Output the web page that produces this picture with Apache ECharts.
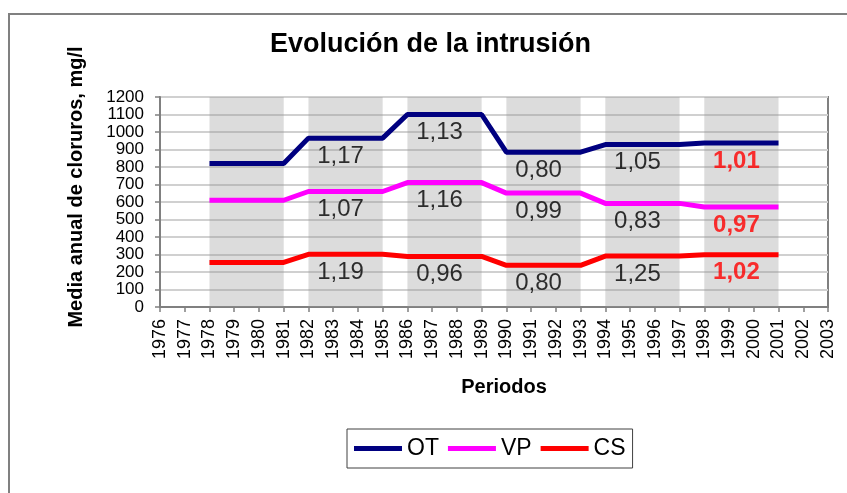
<!DOCTYPE html>
<html>
<head>
<meta charset="utf-8">
<script src="https://cdn.jsdelivr.net/npm/echarts@6/dist/echarts.min.js"></script>
<style>
  html, body { margin: 0; padding: 0; background: #fff; }
  #chart { width: 847px; height: 493px; }
</style>
</head>
<body>
<div id="chart"></div>
<script>
// years with data (one point per year)
const years = [1978, 1979, 1980, 1981, 1982, 1983, 1984, 1985, 1986, 1987, 1988, 1989,
  1990, 1991, 1992, 1993, 1994, 1995, 1996, 1997, 1998, 1999, 2000, 2001];
const otValues = [820, 820, 820, 820, 965, 965, 965, 965, 1100, 1100, 1100, 1100,
  885, 885, 885, 885, 928, 928, 928, 928, 937, 937, 937, 937];
const vpValues = [610, 610, 610, 610, 660, 660, 660, 660, 711, 711, 711, 711,
  651, 651, 651, 651, 592, 592, 592, 592, 571, 571, 571, 571];
const csValues = [255, 255, 255, 255, 301, 301, 301, 301, 289, 289, 289, 289,
  238, 238, 238, 238, 291, 291, 291, 291, 299, 299, 299, 299];

// shaded periods
const periodStarts = [1978, 1982, 1986, 1990, 1994, 1998];
const periodEnds = [1981, 1985, 1989, 1993, 1997, 2001];

// ratio labels for periods 2..6
const otRatios = ['1,17', '1,13', '0,80', '1,05', '1,01'];
const vpRatios = ['1,07', '1,16', '0,99', '0,83', '0,97'];
const csRatios = ['1,19', '0,96', '0,80', '1,25', '1,02'];

const FONT = 'Liberation Sans, Arial, sans-serif';

function linePoints(vals) {
  return years.map((y, i) => [y, vals[i]]);
}

// label anchor = middle of the period, at the line's value for that period
function ratioPoints(vals, ratios) {
  return ratios.map((txt, k) => {
    const p = k + 1;
    const mid = (periodStarts[p] + periodEnds[p]) / 2;
    const v = vals[years.indexOf(periodStarts[p])];
    return { value: [mid, v], name: txt, last: p === periodStarts.length - 1 };
  });
}

function labelSeries(vals, ratios) {
  return {
    type: 'scatter',
    symbolSize: 0,
    silent: true,
    z: 5,
    data: ratioPoints(vals, ratios).map(d => ({
      value: d.value,
      label: d.last
        ? { color: '#ff0000', fontWeight: 'bold' }
        : { color: '#000', fontWeight: 'normal' }
    })),
    label: {
      show: true,
      position: 'inside',
      offset: [-5, 18],
      fontFamily: FONT,
      fontSize: 24,
      formatter: p => ratios[p.dataIndex]
    }
  };
}

const chart = echarts.init(document.getElementById('chart'));
chart.setOption({
  animation: false,
  backgroundColor: '#fff',
  title: {
    text: 'Evolución de la intrusión',
    left: 270,
    top: 31,
    padding: 0,
    textStyle: { fontFamily: FONT, fontSize: 27, fontWeight: 'bold', color: '#000' }
  },
  graphic: [
    {
      type: 'rect',
      shape: { x: 9, y: 14, width: 860, height: 500 },
      style: { fill: 'none', stroke: '#808080', lineWidth: 2 },
      z: -1
    },
    {
      type: 'text',
      x: 76, y: 187,
      rotation: Math.PI / 2,
      style: {
        text: 'Media anual de cloruros, mg/l',
        fontFamily: FONT, fontSize: 20, fontWeight: 'bold', fill: '#000',
        align: 'center', verticalAlign: 'middle'
      }
    },
    {
      type: 'text',
      x: 504, y: 387,
      style: {
        text: 'Periodos',
        fontFamily: FONT, fontSize: 20, fontWeight: 'bold', fill: '#000',
        align: 'center', verticalAlign: 'middle'
      }
    }
  ],
  legend: {
    left: 347,
    top: 429,
    padding: [8, 7],
    borderColor: '#404040',
    borderWidth: 1,
    itemWidth: 48,
    itemHeight: 5,
    itemGap: 9,
    icon: 'rect',
    data: ['OT', 'VP', 'CS'],
    textStyle: { fontFamily: FONT, fontSize: 23, color: '#000' }
  },
  grid: {
    left: 160, top: 97, right: 19, bottom: 186,
    show: true, borderColor: '#808080', borderWidth: 2
  },
  xAxis: {
    type: 'value',
    min: 1976, max: 2003, interval: 1,
    axisLine: { onZero: false, lineStyle: { color: '#808080', width: 2 } },
    axisTick: { length: 5, lineStyle: { color: '#808080', width: 1.5 } },
    splitLine: { show: false },
    axisLabel: {
      rotate: 90, margin: 12,
      fontFamily: FONT, fontSize: 18, color: '#000',
      formatter: v => String(v)
    }
  },
  yAxis: {
    type: 'value',
    min: 0, max: 1200, interval: 100,
    axisLine: { show: true, lineStyle: { color: '#808080', width: 2 } },
    axisTick: { show: true, length: 5, lineStyle: { color: '#808080', width: 1.5 } },
    splitLine: { lineStyle: { color: '#d0d0d0', width: 2 } },
    axisLabel: {
      margin: 16, fontFamily: FONT, fontSize: 17, color: '#000',
      showMinLabel: true, showMaxLabel: true, hideOverlap: false,
      formatter: v => String(v)
    }
  },
  series: [
    {
      name: 'OT', type: 'line', showSymbol: false,
      color: '#000080',
      lineStyle: { width: 5, color: '#000080' },
      data: linePoints(otValues),
      markArea: {
        silent: true,
        itemStyle: { color: 'rgba(150,150,150,0.33)' },
        data: periodStarts.map((s, i) => [{ xAxis: s }, { xAxis: periodEnds[i] }])
      }
    },
    {
      name: 'VP', type: 'line', showSymbol: false,
      color: '#ff00ff',
      lineStyle: { width: 5, color: '#ff00ff' },
      data: linePoints(vpValues)
    },
    {
      name: 'CS', type: 'line', showSymbol: false,
      color: '#ff0000',
      lineStyle: { width: 5, color: '#ff0000' },
      data: linePoints(csValues)
    },
    labelSeries(otValues, otRatios),
    labelSeries(vpValues, vpRatios),
    labelSeries(csValues, csRatios)
  ]
});
</script>
</body>
</html>
